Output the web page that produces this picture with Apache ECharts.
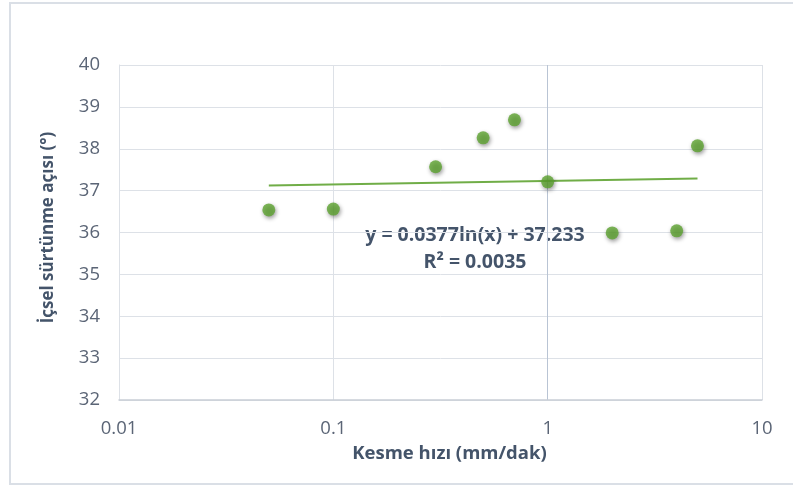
<!DOCTYPE html>
<html><head><meta charset="utf-8">
<script src="https://cdn.jsdelivr.net/npm/echarts@6/dist/echarts.min.js"></script>
<style>html,body{margin:0;padding:0;background:#fff}#c{width:793px;height:486px}</style>
</head><body><div id="c"></div>
<script>
const speeds = [0.05, 0.1, 0.3, 0.5, 0.7, 1, 2, 4, 5];
const angles = [36.54, 36.56, 37.57, 38.26, 38.69, 37.21, 35.99, 36.04, 38.07];
const trendX = [0.05, 5];
const trendY = [37.12, 37.29];
const xTicks = ['0.01', '0.1', '1', '10'];
const equationText = 'y = 0.0377ln(x) + 37.233';
const r2Text = 'R² = 0.0035';

const chart = echarts.init(document.getElementById('c'));
const font = '"Open Sans", sans-serif';
chart.setOption({
  animation: false,
  grid: {left: 119, right: 31, top: 65, bottom: 86},
  xAxis: {
    type: 'log', logBase: 10, min: 0.01, max: 10,
    name: 'Kesme hızı (mm/dak)', nameLocation: 'middle', nameGap: 44,
    nameTextStyle: {color: '#44546a', fontSize: 18.5, fontWeight: 'bold', fontFamily: font, padding: [0,0,0,18]},
    axisLine: {show: true, lineStyle: {color: '#c9ced6', width: 1.5}},
    axisTick: {show: false},
    axisLabel: {color: '#5b6576', fontSize: 18.5, fontFamily: font, margin: 19,
      formatter: v => { const i = Math.round(Math.log10(v)) + 2; return xTicks[i] !== undefined ? xTicks[i] : ''; }},
    splitLine: {show: true, lineStyle: {color: ['#dde1e7', '#dde1e7', '#b9c4d4', '#dde1e7'], width: 1}}
  },
  yAxis: {
    type: 'value', min: 32, max: 40, interval: 1,
    name: 'İçsel sürtünme açısı (°)', nameLocation: 'middle', nameGap: 62, nameRotate: 90,
    nameTextStyle: {color: '#44546a', fontSize: 17, fontWeight: 'bold', fontFamily: font, padding: [0,0,0,10]},
    axisLine: {show: true, lineStyle: {color: '#dde1e7'}},
    axisTick: {show: false},
    axisLabel: {color: '#5b6576', fontSize: 18.5, fontFamily: font, margin: 19},
    splitLine: {show: true, lineStyle: {color: '#dde1e7', width: 1}}
  },
  series: [
    {
      type: 'line', data: trendX.map((x, i) => [x, trendY[i]]),
      showSymbol: false, lineStyle: {color: '#70ad47', width: 2}, z: 2
    },
    {
      type: 'scatter', data: speeds.map((x, i) => [x, angles[i]]),
      symbolSize: 13,
      itemStyle: {color: '#5ca22f', shadowBlur: 4, shadowColor: 'rgba(0,0,0,0.5)', shadowOffsetX: 1, shadowOffsetY: 2},
      z: 3
    }
  ],
  graphic: [
    {type: 'rect', shape: {x: 10, y: 3, width: 800, height: 481}, style: {fill: 'none', stroke: '#dadfe6', lineWidth: 2}, silent: true},
    {type: 'text', x: 475, y: 235, style: {text: equationText, fill: '#44546a', font: 'bold 19.5px ' + font, align: 'center', verticalAlign: 'middle'}},
    {type: 'text', x: 475, y: 262, style: {text: r2Text, fill: '#44546a', font: 'bold 19.5px ' + font, align: 'center', verticalAlign: 'middle'}}
  ]
});
</script></body></html>
